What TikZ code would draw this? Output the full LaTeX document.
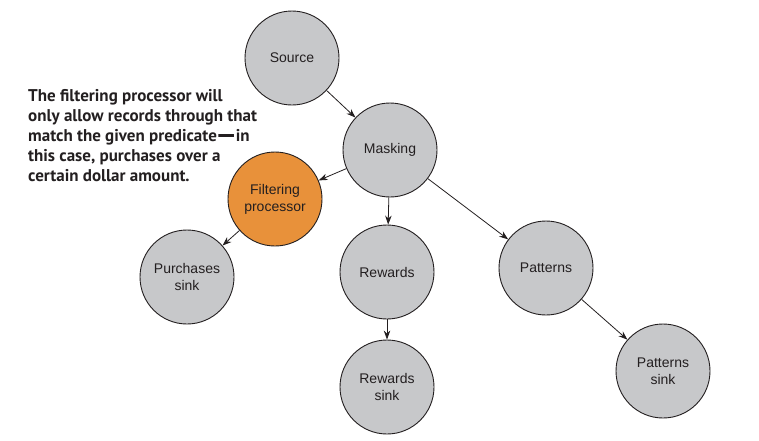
\documentclass[tikz,border=0pt]{standalone}
\usepackage{fontspec}
\setmainfont{Liberation Sans}
\newfontfamily\annotfont[Ligatures=TeX]{PT Sans}
\newcommand{\longdash}{\kern-1.2pt\smash{\raisebox{-2.2pt}{\fontsize{26}{20}\selectfont—}}\kern-1.2pt}
\usetikzlibrary{arrows.meta}
\definecolor{nodegray}{HTML}{C7C8CA}
\definecolor{nodeorange}{HTML}{E8913A}
\definecolor{inkdark}{HTML}{231F20}
\begin{document}
\begin{tikzpicture}[x=1pt,y=-1pt,
  proc/.style={circle,draw=inkdark,line width=0.9pt,fill=nodegray,minimum size=94pt,inner sep=0pt,
    align=center,font=\fontsize{14}{17}\selectfont,text=inkdark},
  hot/.style={proc,fill=nodeorange},
  flow/.style={draw=inkdark,line width=0.8pt,-{Stealth[length=9pt,width=6.5pt]}}]
\useasboundingbox (0,0) rectangle (759,440);
\node[proc] (source) at (292,58) {Source};
\node[proc] (masking) at (390,150) {Masking};
\node[hot] (filter) at (275,199) {Filtering\\processor};
\node[proc] (purch) at (187,277) {Purchases\\sink};
\node[proc] (rewards) at (387,272) {Rewards};
\node[proc] (rsink) at (387,387) {Rewards\\sink};
\node[proc] (patterns) at (546,268) {Patterns};
\node[proc] (psink) at (663,371) {Patterns\\sink};
\draw[flow] (source) -- (masking);
\draw[flow] (masking) -- (filter);
\draw[flow] (masking) -- (rewards);
\draw[flow] (masking) -- (patterns);
\draw[flow] (filter) -- (purch);
\draw[flow] (rewards) -- (rsink);
\draw[flow] (patterns) -- (psink);
\node[anchor=north west,inner sep=0pt,align=left,text=inkdark,
  font=\annotfont\bfseries\fontsize{17}{20}\selectfont] (note) at (28,89)
  {The filtering processor will\\only allow records through that\\match the given predicate\longdash in\\this case, purchases over a\\certain dollar amount.};
\end{tikzpicture}
\end{document}
